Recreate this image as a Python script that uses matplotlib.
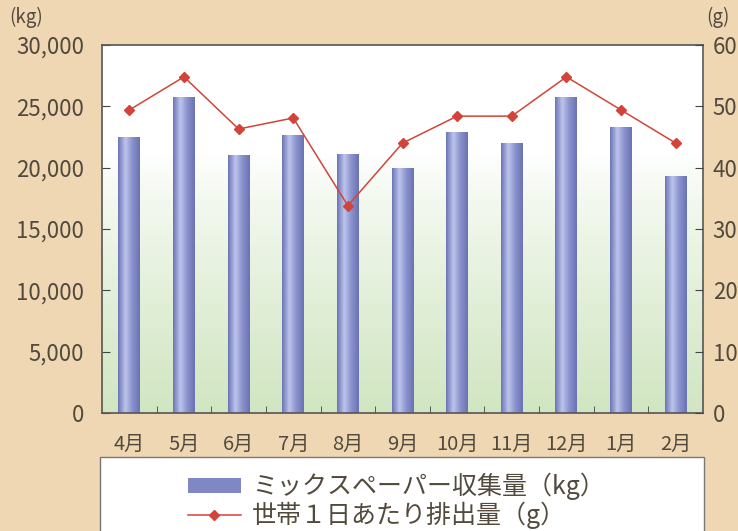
import matplotlib.pyplot as plt
import numpy as np
from matplotlib.colors import LinearSegmentedColormap
from matplotlib.patches import Rectangle
from matplotlib.ticker import FuncFormatter, MultipleLocator, FixedLocator

plt.rcParams['font.family'] = ['Noto Sans CJK JP', 'DejaVu Sans']

months = ['4月', '5月', '6月', '7月', '8月', '9月', '10月', '11月', '12月', '1月', '2月']
collected_kg = [22500, 25800, 21000, 22700, 21100, 20000, 22900, 22000, 25800, 23300, 19300]
per_household_g = [49.4, 54.8, 46.3, 48.1, 33.8, 44.0, 48.4, 48.4, 54.8, 49.4, 44.0]

bg = '#EFD7B3'
text_col = '#524a3d'
bar_col = '#7F88C4'
line_col = '#D2443A'

fig = plt.figure(figsize=(7.38, 5.31), dpi=100, facecolor=bg)
ax = fig.add_axes([0.1382, 0.2222, 0.8144, 0.6931])
ax.set_zorder(1)

# plot area background: white on top fading to pale green
grad = np.ones((256, 1, 3))
t = np.linspace(0, 1, 256)
w = np.clip((t - 0.3) / 0.7, 0, 1) ** 0.8
top = np.array([1.0, 1.0, 1.0])
bottom = np.array([0.82, 0.90, 0.76])
grad[:, 0, :] = top * (1 - w[:, None]) + bottom * w[:, None]
ax.imshow(grad, extent=[0, 1, 0, 1], transform=ax.transAxes, aspect='auto',
          origin='upper', zorder=0)

x = np.arange(len(months))
bars = ax.bar(x, collected_kg, width=0.4, color=bar_col, zorder=2)

# cylinder-like shading on each bar
cyl = LinearSegmentedColormap.from_list('cyl', ['#6C75B5', '#BCC4EC', '#8991CC', '#6A72B2'])
shade = np.linspace(0, 1, 64).reshape(1, -1)
for b in bars:
    x0, y0 = b.get_x(), b.get_y()
    im = ax.imshow(shade, cmap=cyl, extent=[x0, x0 + b.get_width(), y0, y0 + b.get_height()],
                   aspect='auto', zorder=2.5)
    im.set_clip_path(b)

ax.set_xlim(-0.5, len(months) - 0.5)
ax.set_ylim(0, 30000)
ax.yaxis.set_major_locator(MultipleLocator(5000))
ax.yaxis.set_major_formatter(FuncFormatter(lambda v, p: f'{int(v):,}'))
ax.set_xticks(x)
ax.set_xticklabels(months)
ax.xaxis.set_minor_locator(FixedLocator(np.arange(0.5, len(months) - 1, 1)))
ax.tick_params(axis='x', which='major', length=0, pad=15, labelsize=14.5, labelcolor=text_col)
ax.tick_params(axis='x', which='minor', direction='in', length=5, color='#444444')
ax.tick_params(axis='y', direction='in', length=6, pad=13, labelsize=16,
               labelcolor=text_col, color='#444444')
for s in ax.spines.values():
    s.set_color('#555555')
    s.set_linewidth(1.2)

ax2 = ax.twinx()
ax2.set_zorder(2)
ax2.set_ylim(0, 60)
ax2.yaxis.set_major_locator(MultipleLocator(10))
ax2.tick_params(axis='y', direction='in', length=6, pad=7, labelsize=16,
                labelcolor=text_col, color='#444444')
ax2.plot(x, per_household_g, color=line_col, lw=1.1, marker='D', markersize=5.5,
         markerfacecolor=line_col, markeredgecolor=line_col, zorder=3)
for s in ax2.spines.values():
    s.set_visible(False)

fig.text(0.012, 0.968, '(kg)', fontsize=13.5, color=text_col, ha='left', va='center')
fig.text(0.957, 0.968, '(g)', fontsize=13.5, color=text_col, ha='left', va='center')

# legend panel
fig.patches.append(Rectangle((0.136, -0.05), 0.818, 0.19, transform=fig.transFigure,
                             facecolor='white', edgecolor='#777777', lw=1.0, zorder=0))
h_bar = Rectangle((0, 0), 1, 1, facecolor=bar_col, edgecolor='none')
h_line, = ax2.plot([], [], color=line_col, lw=1.1, marker='D', markersize=5)
fig.legend([h_bar, h_line], ['ミックスペーパー収集量（kg）', '世帯１日あたり排出量（g）'],
           loc='upper left', bbox_to_anchor=(0.238, 0.133), frameon=False,
           fontsize=18, labelcolor=text_col, handlelength=2.1, handleheight=0.6,
           labelspacing=0.05, borderpad=0, handletextpad=0.45)

fig.savefig('out.png', dpi=100, facecolor=bg)
